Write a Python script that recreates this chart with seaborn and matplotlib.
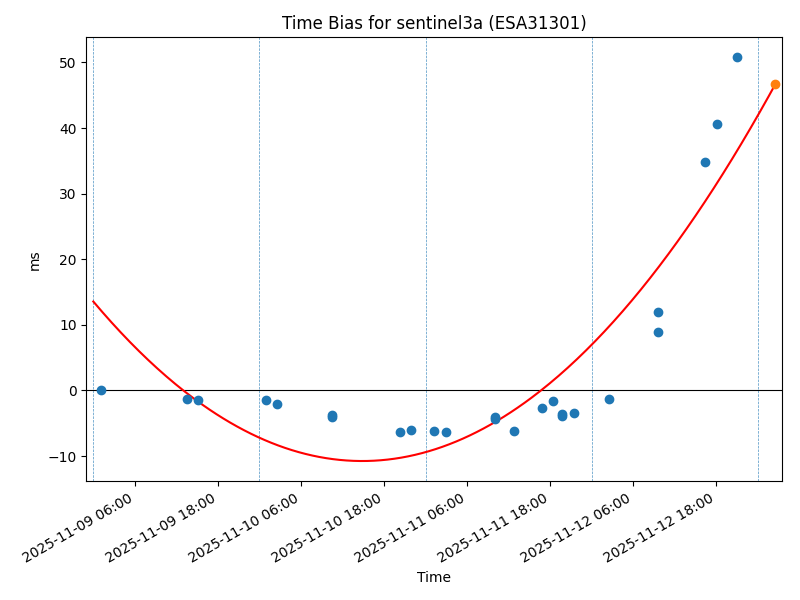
import numpy as np
import pandas as pd
import matplotlib
matplotlib.use("Agg")
import matplotlib.pyplot as plt
import matplotlib.dates as mdates
import seaborn as sns

# normal points (time bias in ms)
obs_times = [
    "2025-11-09 01:09", "2025-11-09 13:35", "2025-11-09 15:11",
    "2025-11-10 00:55", "2025-11-10 02:31", "2025-11-10 10:33", "2025-11-10 10:33",
    "2025-11-10 20:14", "2025-11-10 21:50", "2025-11-11 01:09", "2025-11-11 02:53",
    "2025-11-11 10:04", "2025-11-11 10:04", "2025-11-11 12:43", "2025-11-11 16:46",
    "2025-11-11 18:28", "2025-11-11 19:43", "2025-11-11 19:43", "2025-11-11 21:24",
    "2025-11-12 02:27", "2025-11-12 09:32", "2025-11-12 09:32", "2025-11-12 16:20",
    "2025-11-12 18:02", "2025-11-12 20:58",
]
obs_bias = [
    0.1, -1.27, -1.42,
    -1.42, -2.04, -3.72, -4.09,
    -6.32, -6.01, -6.17, -6.32,
    -4.0, -4.33, -6.17, -2.65,
    -1.68, -3.67, -3.83, -3.41,
    -1.27, 12.0, 8.95, 34.85,
    40.67, 50.77,
]

fit_start = "2025-11-09 00:00"
predict_time = "2025-11-13 02:33"

df = pd.DataFrame({"time": pd.to_datetime(obs_times), "bias": obs_bias})
t0 = pd.Timestamp(fit_start)
t_pred = pd.Timestamp(predict_time)

# quadratic fit in hours since start
hours = (df["time"] - t0).dt.total_seconds() / 3600.0
coef = np.polyfit(hours, df["bias"], 2)

curve_t = pd.date_range(t0, t_pred, periods=300)
curve_h = (curve_t - t0).total_seconds() / 3600.0
curve_v = np.polyval(coef, curve_h)
pred_v = np.polyval(coef, (t_pred - t0).total_seconds() / 3600.0)

fig, ax = plt.subplots(figsize=(8, 6), dpi=100)

# day boundaries
for day in pd.date_range(t0, t_pred.normalize(), freq="D"):
    ax.axvline(day, color="C0", linestyle="--", linewidth=0.5, alpha=0.8)
ax.axhline(0, color="black", linewidth=0.8)

sns.lineplot(x=curve_t, y=curve_v, color="red", linewidth=1.5, ax=ax)
sns.scatterplot(data=df, x="time", y="bias", color="C0", s=36,
                edgecolor="C0", linewidth=1.0, ax=ax, zorder=3)
ax.scatter([t_pred], [pred_v], color="C1", s=36, zorder=4)

ax.set_xlim(t0 - pd.Timedelta(hours=1), t_pred + pd.Timedelta(hours=1))
ax.xaxis.set_major_locator(mdates.HourLocator(byhour=[6, 18]))
ax.xaxis.set_major_formatter(mdates.DateFormatter("%Y-%m-%d %H:%M"))
plt.setp(ax.get_xticklabels(), rotation=30, ha="right")

ax.set_title("Time Bias for sentinel3a (ESA31301)")
ax.set_xlabel("Time")
ax.set_ylabel("ms")

fig.subplots_adjust(left=0.108, right=0.978, top=0.938, bottom=0.198)
fig.savefig("out.png", dpi=100)
